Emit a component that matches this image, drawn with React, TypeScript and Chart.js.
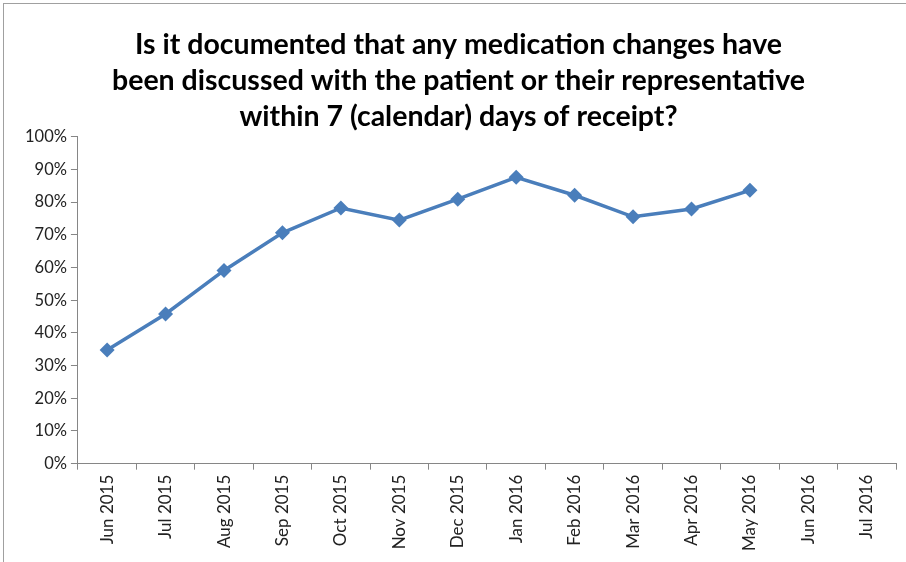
import React, { useEffect, useRef } from "react";
import { Chart, registerables } from "chart.js";

Chart.register(...registerables);

const categories = [
  "Jun 2015", "Jul 2015", "Aug 2015", "Sep 2015", "Oct 2015", "Nov 2015", "Dec 2015",
  "Jan 2016", "Feb 2016", "Mar 2016", "Apr 2016", "May 2016", "Jun 2016", "Jul 2016",
];
const values: (number | null)[] = [
  0.348, 0.458, 0.591, 0.706, 0.782, 0.745, 0.809, 0.876, 0.821, 0.755, 0.779, 0.836, null, null,
];
const titleLines = [
  "Is it documented that any medication changes have",
  "been discussed with the patient or their representative",
  "within 7 (calendar) days of receipt?",
];

export default function App() {
  const ref = useRef<HTMLCanvasElement | null>(null);
  useEffect(() => {
    if (!ref.current) return;
    const chart = new Chart(ref.current, {
      type: "line",
      data: {
        labels: categories,
        datasets: [
          {
            data: values,
            borderColor: "#4a7ebb",
            backgroundColor: "#4a7ebb",
            borderWidth: 3.5,
            pointStyle: "rectRot",
            pointRadius: 7.5,
            pointBorderWidth: 0,
            tension: 0,
            spanGaps: false,
          },
        ],
      },
      options: {
        animation: false,
        responsive: false,
        maintainAspectRatio: false,
        layout: { padding: { left: 21, right: 10, top: 23, bottom: 6 } },
        plugins: {
          legend: { display: false },
          tooltip: { enabled: false },
          title: {
            display: true,
            text: titleLines,
            color: "#000",
            font: { family: "Lato", size: 28.5, weight: "bold", lineHeight: 1.26 },
            padding: { top: 4, bottom: 2 },
          },
        },
        scales: {
          x: {
            offset: true,
            grid: {
              offset: true,
              drawOnChartArea: false,
              drawTicks: true,
              tickLength: 6,
              color: "#868686",
            },
            border: { color: "#868686", width: 1 },
            ticks: {
              color: "#222",
              font: { family: "Lato", size: 17 },
              maxRotation: 90,
              minRotation: 90,
              autoSkip: false,
              padding: 5,
            },
          },
          y: {
            min: 0,
            max: 1,
            grid: {
              drawOnChartArea: false,
              drawTicks: true,
              tickLength: 7,
              color: "#868686",
            },
            border: { color: "#868686", width: 1 },
            ticks: {
              stepSize: 0.1,
              color: "#222",
              font: { family: "Lato", size: 16.5 },
              padding: 4,
              callback: (v: any) => Math.round(Number(v) * 100) + "%",
            },
          },
        },
      },
    });
    return () => chart.destroy();
  }, []);
  return (
    <div
      style={{
        position: "absolute",
        left: 0,
        top: 0,
        width: 906,
        height: 562,
        background: "#fff",
      }}
    >
      <div
        style={{
          position: "absolute",
          left: 3,
          top: 3,
          width: 920,
          height: 600,
          border: "1px solid #a0a0a0",
          boxSizing: "border-box",
        }}
      />
      <canvas ref={ref} width={906} height={562} style={{ position: "absolute", left: 0, top: 0 }} />
    </div>
  );
}
